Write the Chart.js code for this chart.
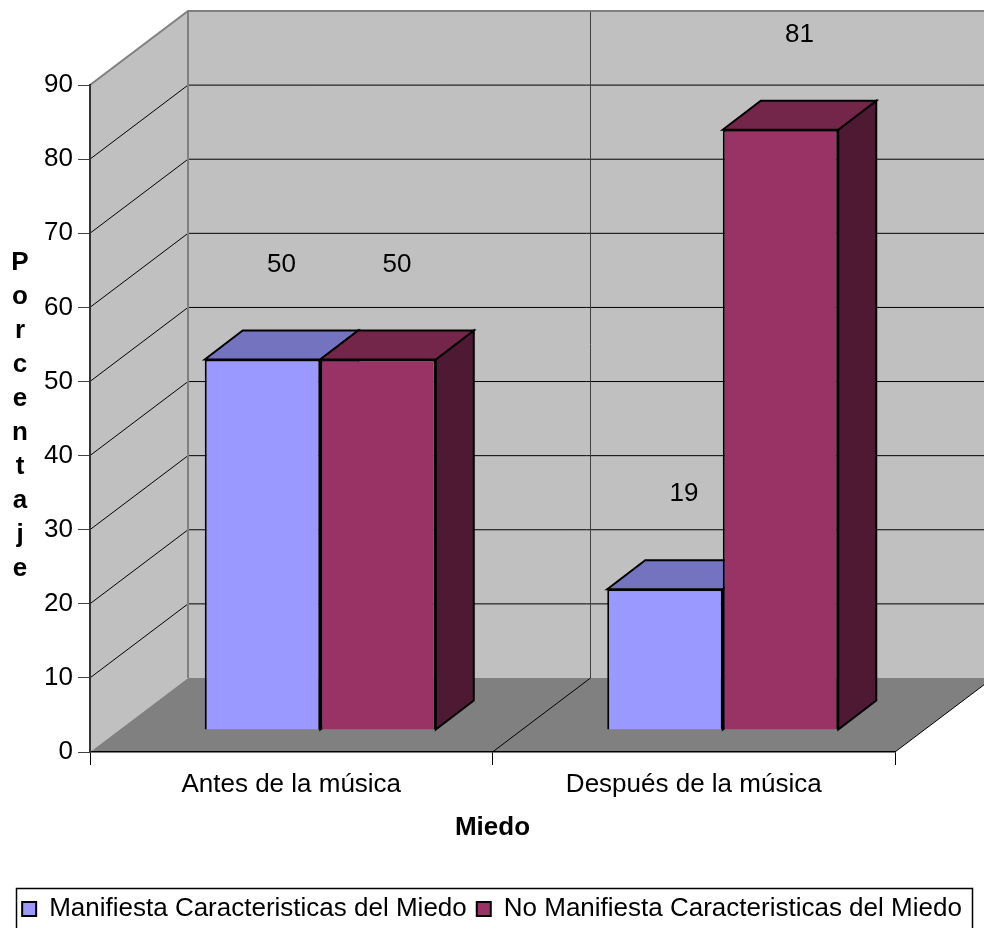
<!DOCTYPE html>
<html>
<head>
<meta charset="utf-8">
<script src="https://cdn.jsdelivr.net/npm/chart.js@4.4.0/dist/chart.umd.min.js"></script>
<style>
  html, body { margin: 0; padding: 0; background: #fff; }
  #wrap { width: 984px; height: 928px; }
</style>
</head>
<body>
<div id="wrap"><canvas id="chart"></canvas></div>
<script>
// data (percent)
const categories = ['Antes de la música', 'Después de la música'];
const manifiesta = [50, 19];
const noManifiesta = [50, 81];
const seriesNames = [
  'Manifiesta Caracteristicas del Miedo',
  'No Manifiesta Caracteristicas del Miedo'
];
const yTitle = 'Porcentaje';
const xTitle = 'Miedo';

const FONT = "'Liberation Sans', Arial, sans-serif";

// fake 3D: depth of the whole floor, where the bar row sits in it, depth of a bar
const WALL = { dx: 98, dy: -74 };
const ROW = { dx: 29, dy: -22 };
const BAR = { dx: 38, dy: -29 };
const faceColors = [
  { top: '#7373bf', side: '#5c5c99' },
  { top: '#732649', side: '#4d1933' }
];

function poly(ctx, pts, fill, stroke, lw) {
  ctx.beginPath();
  ctx.moveTo(pts[0][0], pts[0][1]);
  for (let i = 1; i < pts.length; i++) ctx.lineTo(pts[i][0], pts[i][1]);
  ctx.closePath();
  if (fill) { ctx.fillStyle = fill; ctx.fill(); }
  if (stroke) { ctx.strokeStyle = stroke; ctx.lineWidth = lw || 1; ctx.stroke(); }
}

function line(ctx, x1, y1, x2, y2, color, lw) {
  ctx.beginPath();
  ctx.moveTo(x1, y1);
  ctx.lineTo(x2, y2);
  ctx.strokeStyle = color;
  ctx.lineWidth = lw;
  ctx.stroke();
}

const walls3d = {
  id: 'walls3d',
  beforeDraw(chart) {
    const { ctx, chartArea: a, scales: { x, y } } = chart;
    const L = a.left, R = a.right;
    const y0 = y.getPixelForValue(0);
    const yTop = y.getPixelForValue(y.max);
    const farR = chart.width + 20;
    ctx.save();
    // back wall, left wall, floor
    ctx.fillStyle = '#c0c0c0';
    ctx.fillRect(L + WALL.dx, yTop + WALL.dy, farR - L, y0 - yTop);
    poly(ctx, [[L, yTop], [L + WALL.dx, yTop + WALL.dy], [L + WALL.dx, y0 + WALL.dy], [L, y0]], '#c0c0c0');
    poly(ctx, [[L, y0], [L + WALL.dx, y0 + WALL.dy], [R + WALL.dx, y0 + WALL.dy], [R, y0]], '#808080');

    // value gridlines on left and back walls
    y.ticks.forEach(t => {
      if (t.value <= 0 || t.value >= y.max) return;
      const py = y.getPixelForValue(t.value);
      ctx.beginPath();
      ctx.moveTo(L, py);
      ctx.lineTo(L + WALL.dx, py + WALL.dy);
      ctx.lineTo(farR, py + WALL.dy);
      ctx.strokeStyle = '#000';
      ctx.lineWidth = 1;
      ctx.stroke();
    });

    // category boundaries: back wall verticals and floor diagonals
    for (let i = 1; i <= categories.length; i++) {
      const bx = i < categories.length
        ? (x.getPixelForValue(i - 1) + x.getPixelForValue(i)) / 2
        : R;
      if (i < categories.length) {
        line(ctx, bx + WALL.dx, yTop + WALL.dy, bx + WALL.dx, y0 + WALL.dy, '#404040', 1);
      }
      line(ctx, bx, y0, bx + WALL.dx, y0 + WALL.dy, '#000', 1);
    }

    // wall edges
    ctx.beginPath();
    ctx.moveTo(L, yTop);
    ctx.lineTo(L + WALL.dx, yTop + WALL.dy);
    ctx.lineTo(farR, yTop + WALL.dy);
    ctx.moveTo(L + WALL.dx, yTop + WALL.dy);
    ctx.lineTo(L + WALL.dx, y0 + WALL.dy);
    ctx.strokeStyle = '#808080';
    ctx.lineWidth = 2;
    ctx.stroke();
    ctx.restore();
  },
  beforeDatasetsDraw(chart) {
    const ctx = chart.ctx;
    ctx.save();
    ctx.translate(ROW.dx, ROW.dy);
    chart.data.datasets.forEach((ds, i) => {
      const c = faceColors[i];
      chart.getDatasetMeta(i).data.forEach(bar => {
        const { x, y, base, width } = bar.getProps(['x', 'y', 'base', 'width'], true);
        const l = x - width / 2, r = x + width / 2;
        poly(ctx, [[r, y], [r + BAR.dx, y + BAR.dy], [r + BAR.dx, base + BAR.dy], [r, base]], c.side, '#000', 2);
        poly(ctx, [[l, y], [l + BAR.dx, y + BAR.dy], [r + BAR.dx, y + BAR.dy], [r, y]], c.top, '#000', 2);
      });
    });
    // translation is kept so the library draws the front faces in the bar row
  },
  afterDatasetsDraw(chart) {
    const ctx = chart.ctx;
    ctx.restore();
    ctx.save();
    ctx.font = '26px ' + FONT;
    ctx.fillStyle = '#000';
    ctx.textAlign = 'center';
    ctx.textBaseline = 'middle';
    chart.data.datasets.forEach((ds, i) => {
      chart.getDatasetMeta(i).data.forEach((bar, j) => {
        ctx.fillText(String(ds.data[j]), bar.x + ROW.dx + BAR.dx / 2, bar.y + ROW.dy - 95);
      });
    });
    ctx.restore();
  },
  afterDraw(chart) {
    const ctx = chart.ctx;
    ctx.save();
    // stacked axis title
    ctx.font = 'bold 26px ' + FONT;
    ctx.fillStyle = '#000';
    ctx.textAlign = 'center';
    ctx.textBaseline = 'middle';
    yTitle.split('').forEach((ch, k) => ctx.fillText(ch, 20, 263 + k * 34));
    // legend frame
    const lg = chart.legend;
    ctx.strokeStyle = '#000';
    ctx.lineWidth = 1.5;
    ctx.strokeRect(16.5, lg.top + 2.5, chart.width - 28, lg.height + 20);
    ctx.restore();
  }
};

new Chart(document.getElementById('chart'), {
  type: 'bar',
  data: {
    labels: categories,
    datasets: [
      {
        label: seriesNames[0],
        data: manifiesta,
        backgroundColor: '#9999ff',
        borderColor: '#000',
        borderWidth: 2,
        clip: false
      },
      {
        label: seriesNames[1],
        data: noManifiesta,
        backgroundColor: '#993366',
        borderColor: '#000',
        borderWidth: 2,
        clip: false
      }
    ]
  },
  options: {
    responsive: true,
    maintainAspectRatio: false,
    animation: false,
    categoryPercentage: 0.574,
    barPercentage: 1,
    layout: { padding: { top: 85, left: 0, right: 0, bottom: -4 } },
    plugins: {
      legend: {
        position: 'bottom',
        labels: {
          boxWidth: 14,
          boxHeight: 14,
          padding: 10,
          color: '#000',
          font: { family: FONT, size: 26 }
        }
      },
      tooltip: { enabled: false }
    },
    scales: {
      x: {
        grid: { display: true, drawOnChartArea: false, drawTicks: true, tickLength: 13, color: '#000', offset: true },
        border: { display: true, color: '#000', width: 1.5 },
        ticks: { color: '#000', padding: 4, font: { family: FONT, size: 26 } },
        title: {
          display: true,
          text: xTitle,
          color: '#000',
          font: { family: FONT, size: 26, weight: 'bold' },
          padding: { top: 0, bottom: 43 }
        },
        afterFit(s) { s.height = 134; }
      },
      y: {
        min: 0,
        max: 90,
        ticks: { stepSize: 10, color: '#000', padding: 5, font: { family: FONT, size: 26 } },
        grid: { display: true, drawOnChartArea: false, drawTicks: true, tickLength: 12, color: '#404040' },
        border: { display: true, color: '#333', width: 2 },
        afterFit(s) { s.width = 90; }
      },
      yRight: {
        position: 'right',
        display: true,
        ticks: { display: false },
        grid: { display: false },
        border: { display: false },
        afterFit(s) { s.width = 89; }
      }
    }
  },
  plugins: [walls3d]
});
</script>
</body>
</html>
